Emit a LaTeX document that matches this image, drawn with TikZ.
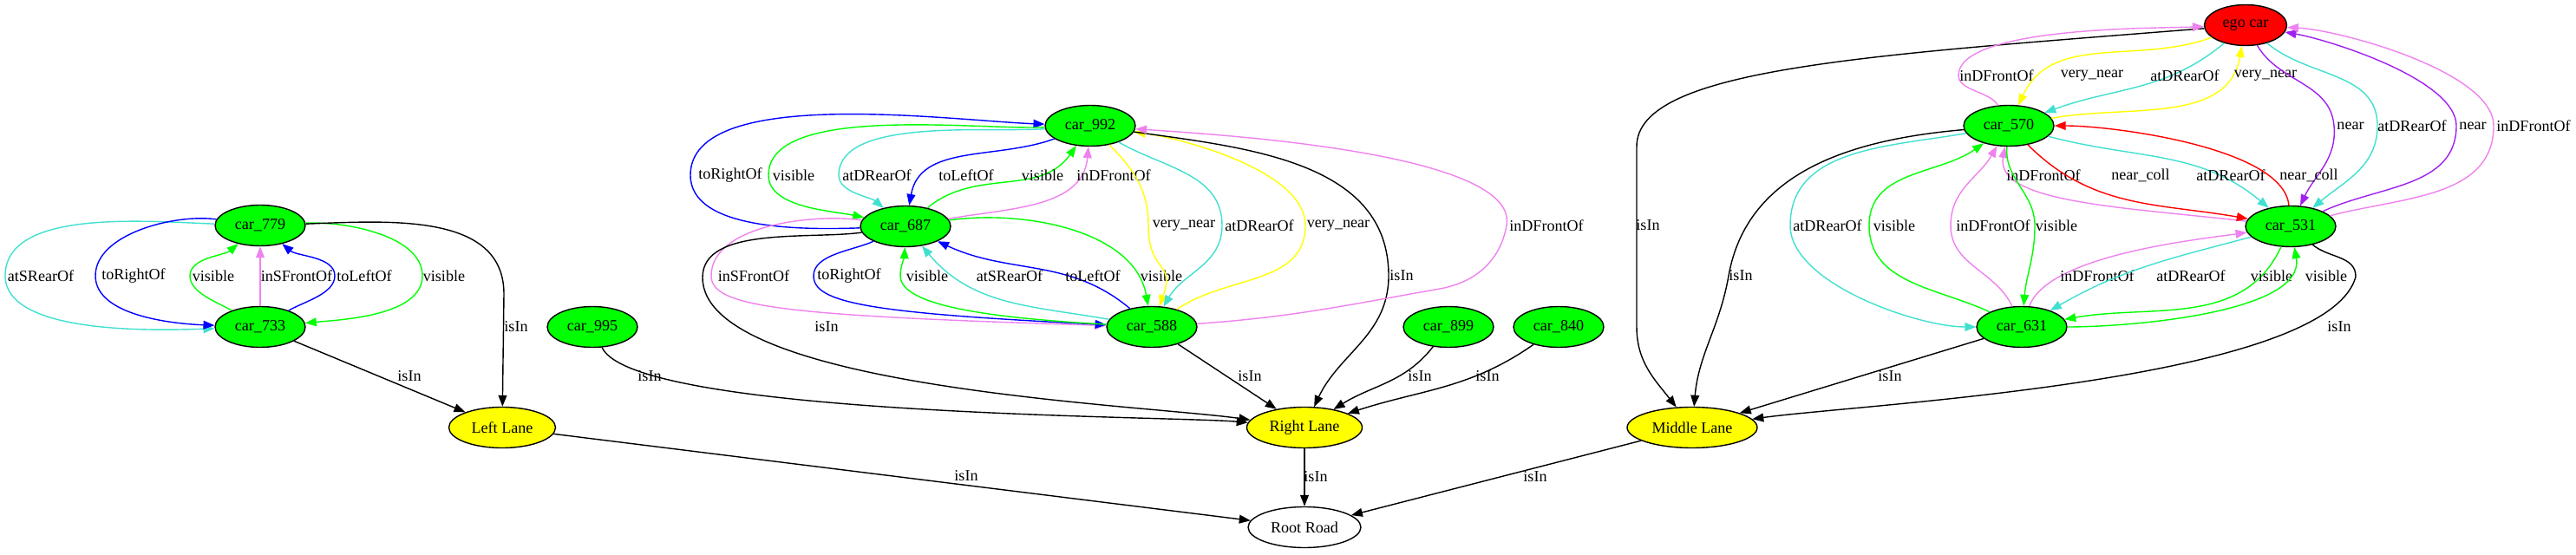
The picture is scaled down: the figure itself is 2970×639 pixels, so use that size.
\documentclass[tikz,border=0pt]{standalone}
\usepackage{fontspec}
\setmainfont{Liberation Serif}
\usetikzlibrary{shapes.geometric, arrows.meta, positioning}

\definecolor{gvgreen}{RGB}{0,255,0}
\definecolor{gvturq}{RGB}{64,224,208}
\definecolor{gvviolet}{RGB}{238,130,238}
\definecolor{gvpurple}{RGB}{160,32,240}
\definecolor{gvblue}{RGB}{0,0,255}
\definecolor{gvred}{RGB}{255,0,0}
\definecolor{gvyellow}{RGB}{255,255,0}

\begin{document}
\begin{tikzpicture}[x=0.02cm, y=0.02cm, font=\fontsize{10.3}{12}\selectfont]
    \tikzstyle{car} = [draw, ellipse, line width=0.8pt, fill=gvgreen, minimum width=2.08cm, minimum height=0.94cm, inner sep=0pt]
    \tikzstyle{lane} = [car, fill=gvyellow]
    \tikzstyle{road} = [car, fill=white, minimum width=2.6cm]
    \tikzstyle{rel} = [draw, line width=0.8pt, -{Triangle[length=7.4pt, width=5.6pt]}]
    \tikzstyle{lbl} = [inner sep=0pt, text=black]

    \useasboundingbox (0,0) rectangle (2970,639);

    % Cars
    \node[car] (c779) at (300,379) {car\_779};
    \node[car] (c733) at (300,262) {car\_733};
    \node[car] (c995) at (683,262) {car\_995};
    \node[car] (c992) at (1257,494) {car\_992};
    \node[car] (c687) at (1044,378) {car\_687};
    \node[car] (c588) at (1328,262) {car\_588};
    \node[car] (c899) at (1670,262) {car\_899};
    \node[car] (c840) at (1797,262) {car\_840};
    \node[car, fill=gvred, minimum width=1.9cm] (ego) at (2589,610) {ego car};
    \node[car] (c570) at (2316,494) {car\_570};
    \node[car] (c531) at (2641,378) {car\_531};
    \node[car] (c631) at (2331,262) {car\_631};

    % Lanes and road
    \node[lane, minimum width=2.46cm] (left) at (579,146) {Left Lane};
    \node[lane, minimum width=2.66cm] (right) at (1504,146) {Right Lane};
    \node[lane, minimum width=3.0cm] (middle) at (1951,146) {Middle Lane};
    \node[road] (root) at (1504,31) {Root Road};

    % Left lane group
    \draw[rel, gvturq] (c779) to[out=178,in=90,looseness=0.8] (6,321) to[out=-90,in=182,looseness=0.7] (c733) node[lbl] at (47,321) {atSRearOf};
    \draw[rel, gvblue] (c779) to[out=172,in=90,looseness=0.8] (110,321) to[out=-90,in=178,looseness=0.8] (c733) node[lbl] at (154,321) {toRightOf};
    \draw[rel, gvgreen] (c733) to[out=150,in=-90,looseness=0.8] (219,321) to[out=90,in=-140,looseness=0.8] (c779) node[lbl] at (246,321) {visible};
    \draw[rel, gvviolet] (c733) -- (c779) node[lbl] at (342,321) {inSFrontOf};
    \draw[rel, gvblue] (c733) to[out=30,in=-90,looseness=0.8] (386,321) to[out=90,in=-40,looseness=0.8] (c779) node[lbl] at (420,321) {toLeftOf};
    \draw[rel, gvgreen] (c779) to[out=3,in=90,looseness=0.8] (487,321) to[out=-90,in=5,looseness=0.8] (c733) node[lbl] at (512,321) {visible};
    \draw[rel] (c779) to[out=2,in=90] (581,300) -- (left) node[lbl] at (595,262) {isIn};
    \draw[rel] (c733) -- (left) node[lbl] at (472,205) {isIn};

    % Right lane group
    \draw[rel, gvblue] (c687) to[out=182,in=-90,looseness=0.8] (796,437) to[out=90,in=178,looseness=0.65] (c992) node[lbl] at (842,437) {toRightOf};
    \draw[rel, gvgreen] (c992) to[out=182,in=90,looseness=0.65] (886,437) to[out=-90,in=168,looseness=0.8] (c687) node[lbl] at (915,437) {visible};
    \draw[rel, gvturq] (c992) to[out=184,in=90,looseness=0.7] (967,437) to[out=-90,in=140,looseness=0.8] (c687) node[lbl] at (1011,437) {atDRearOf};
    \draw[rel, gvblue] (c992) to[out=200,in=80] (c687) node[lbl] at (1114,437) {toLeftOf};
    \draw[rel, gvgreen] (c687) to[out=40,in=-125] (c992) node[lbl] at (1202,437) {visible};
    \draw[rel, gvviolet] (c687) to[out=10,in=-95] (c992) node[lbl] at (1284,437) {inDFrontOf};
    \draw[rel, gvviolet] (c687) to[out=172,in=90,looseness=0.8] (820,321) .. controls (820,285) and (900,275) .. (c588) node[lbl] at (869,321) {inSFrontOf};
    \draw[rel, gvblue] (c687) to[out=205,in=90,looseness=0.8] (938,321) .. controls (938,290) and (1000,278) .. (c588) node[lbl] at (979,321) {toRightOf};
    \draw[rel, gvgreen] (c588) .. controls (1150,272) and (1038,285) .. (1038,321) to[out=90,in=-92,looseness=0.8] (c687) node[lbl] at (1069,321) {visible};
    \draw[rel, gvturq] (c588) to[out=170,in=-50] (c687) node[lbl] at (1164,321) {atSRearOf};
    \draw[rel, gvblue] (c588) to[out=140,in=-25] (c687) node[lbl] at (1260,321) {toLeftOf};
    \draw[rel, gvgreen] (c687) to[out=8,in=100,looseness=0.9] (c588) node[lbl] at (1339,321) {visible};
    \draw[rel] (c687) to[out=188,in=90,looseness=0.8] (810,319) to[out=-90,in=172,looseness=0.5] (right) node[lbl] at (953,262) {isIn};
    \draw[rel, gvyellow] (c992) to[out=-45,in=90] (1324,379) to[out=-90,in=70,looseness=1.5] (c588) node[lbl] at (1365,379) {very\_near};
    \draw[rel, gvturq] (c992) to[out=-30,in=90] (1409,379) to[out=-90,in=60] (c588) node[lbl] at (1452,379) {atDRearOf};
    \draw[rel, gvyellow] (c588) to[out=35,in=-90] (1505,379) to[out=90,in=-8,looseness=0.7] (c992) node[lbl] at (1543,379) {very\_near};
    \draw[rel] (c992) to[out=-8,in=90] (1601,321) to[out=-90,in=65] (right) node[lbl] at (1616,321) {isIn};
    \draw[rel, gvviolet] (c588) to[out=4,in=190] (1660,306) to[out=10,in=-100] (1737,379) to[out=80,in=-4,looseness=0.5] (c992) node[lbl] at (1783,379) {inDFrontOf};
    \draw[rel] (c588) -- (right) node[lbl] at (1441,205) {isIn};
    \draw[rel] (c995) to[out=-65,in=175,looseness=0.3] (right) node[lbl] at (749,205) {isIn};
    \draw[rel] (c899) to[out=-128,in=32] (right) node[lbl] at (1637,205) {isIn};
    \draw[rel] (c840) to[out=-145,in=18] (right) node[lbl] at (1715,205) {isIn};

    % Middle lane group
    \draw[rel] (ego) .. controls (2150,575) and (1887,560) .. (1887,470) -- (1887,262) to[out=-90,in=128] (middle) node[lbl] at (1900,379) {isIn};
    \draw[rel, gvviolet] (c570) to[out=118,in=-90,looseness=0.8] (2258,552) to[out=90,in=182,looseness=0.5] (ego) node[lbl] at (2302,552) {inDFrontOf};
    \draw[rel, gvyellow] (ego) to[out=200,in=65] (c570) node[lbl] at (2412,552) {very\_near};
    \draw[rel, gvturq] (ego) to[out=-140,in=20] (c570) node[lbl] at (2519,552) {atDRearOf};
    \draw[rel, gvyellow] (c570) to[out=10,in=-100] (ego) node[lbl] at (2612,552) {very\_near};
    \draw[rel, gvpurple] (ego) to[out=-60,in=95] (2691,494) to[out=-85,in=65] (c531) node[lbl] at (2710,494) {near};
    \draw[rel, gvturq] (ego) to[out=-40,in=90] (2741,494) to[out=-90,in=40] (c531) node[lbl] at (2781,494) {atDRearOf};
    \draw[rel, gvpurple] (c531) to[out=25,in=-90] (2832,494) to[out=90,in=-10,looseness=0.6] (ego) node[lbl] at (2851,494) {near};
    \draw[rel, gvviolet] (c531) to[out=15,in=-90] (2875,494) to[out=90,in=-3,looseness=0.6] (ego) node[lbl] at (2921,494) {inDFrontOf};
    \draw[rel] (c570) to[out=185,in=80] (1993,321) to[out=-100,in=85] (middle) node[lbl] at (2007,321) {isIn};
    \draw[rel, gvviolet] (c531) .. controls (2450,400) and (2300,405) .. (c570) node[lbl] at (2356,437) {inDFrontOf};
    \draw[rel, gvred] (c570) to[out=-45,in=170] (c531) node[lbl] at (2468,437) {near\_coll};
    \draw[rel, gvturq] (c570) to[out=-15,in=140] (c531) node[lbl] at (2572,437) {atDRearOf};
    \draw[rel, gvred] (c531) to[out=95,in=0,looseness=0.6] (c570) node[lbl] at (2662,437) {near\_coll};
    \draw[rel, gvturq] (c570) to[out=190,in=90] (2064,379) to[out=-90,in=180,looseness=0.7] (c631) node[lbl] at (2107,379) {atDRearOf};
    \draw[rel, gvgreen] (c631) to[out=155,in=-90] (2155,379) to[out=90,in=-145] (c570) node[lbl] at (2184,379) {visible};
    \draw[rel, gvviolet] (c631) to[out=115,in=-90] (2249,379) to[out=90,in=-120] (c570) node[lbl] at (2298,379) {inDFrontOf};
    \draw[rel, gvgreen] (c570) to[out=-95,in=90] (2346,379) to[out=-90,in=85] (c631) node[lbl] at (2371,379) {visible};
    \draw[rel, gvviolet] (c631) to[out=70,in=188,looseness=0.6] (c531) node[lbl] at (2418,321) {inDFrontOf};
    \draw[rel, gvturq] (c531) to[out=195,in=30] (c631) node[lbl] at (2526,321) {atDRearOf};
    \draw[rel, gvgreen] (c531) to[out=-115,in=10] (c631) node[lbl] at (2619,321) {visible};
    \draw[rel, gvgreen] (c631) to[out=0,in=-80,looseness=0.7] (c531) node[lbl] at (2682,321) {visible};
    \draw[rel] (c531) to[out=-40,in=90] (2716,320) to[out=-105,in=8,looseness=0.45] (middle) node[lbl] at (2697,262) {isIn};
    \draw[rel] (c631) -- (middle) node[lbl] at (2179,205) {isIn};

    % Lanes to road
    \draw[rel] (left) -- (root) node[lbl] at (1114,90) {isIn};
    \draw[rel] (right) -- (root) node[lbl] at (1517,89) {isIn};
    \draw[rel] (middle) -- (root) node[lbl] at (1770,89) {isIn};
\end{tikzpicture}
\end{document}
